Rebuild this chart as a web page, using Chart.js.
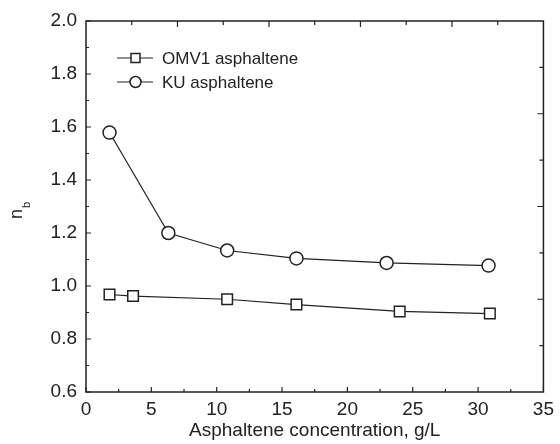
<!DOCTYPE html>
<html lang="en">
<head>
    <meta charset="UTF-8">
    <title>n_b vs asphaltene concentration</title>
    <script src="https://cdn.jsdelivr.net/npm/chart.js"></script>
    <style>
        * { margin: 0; padding: 0; box-sizing: border-box; }
        body { background: #ffffff; width: 560px; height: 444px; overflow: hidden; }
        .wrap { position: relative; width: 560px; height: 444px; }
    </style>
</head>
<body>
<div class="wrap">
    <canvas id="chart" width="560" height="444"></canvas>
</div>

<script>
    // data
    var omvConc = [1.8, 3.6, 10.8, 16.1, 24.0, 30.9];
    var omvNb   = [0.968, 0.962, 0.950, 0.930, 0.904, 0.896];
    var kuConc  = [1.8, 6.3, 10.8, 16.1, 23.0, 30.8];
    var kuNb    = [1.579, 1.200, 1.134, 1.104, 1.087, 1.077];

    var xTicks = [0, 5, 10, 15, 20, 25, 30, 35];
    var yTicks = [0.6, 0.8, 1.0, 1.2, 1.4, 1.6, 1.8, 2.0];

    var INK = '#222222';
    var FONT = 'Liberation Sans, Arial, sans-serif';

    function toPoints(xs, ys) {
        return xs.map(function (x, i) { return { x: x, y: ys[i] }; });
    }

    // frame with inward ticks (Origin style), top/right axes have their own spacing
    var framePlugin = {
        id: 'frame',
        afterDraw: function (chart) {
            var ctx = chart.ctx;
            var a = chart.chartArea;
            var xs = chart.scales.x, ys = chart.scales.y;
            ctx.save();
            ctx.strokeStyle = INK;
            ctx.lineWidth = 1.5;
            ctx.strokeRect(a.left, a.top, a.right - a.left, a.bottom - a.top);
            ctx.lineWidth = 1.2;
            ctx.beginPath();
            var v, p, len;
            // bottom: major 5, minor 2.5
            for (v = 0; v <= 35.001; v += 2.5) {
                p = xs.getPixelForValue(v);
                len = (Math.round(v / 2.5) % 2 === 0) ? 5 : 3;
                ctx.moveTo(p, a.bottom); ctx.lineTo(p, a.bottom - len);
            }
            // left: major 0.2, minor 0.1
            for (v = 0.6; v <= 2.0001; v += 0.1) {
                p = ys.getPixelForValue(v);
                len = (Math.round((v - 0.6) / 0.1) % 2 === 0) ? 5 : 3;
                ctx.moveTo(a.left, p); ctx.lineTo(a.left + len, p);
            }
            // top: major 7, minor 3.5
            for (v = 3.5; v < 35; v += 3.5) {
                p = xs.getPixelForValue(v);
                len = (Math.round(v / 3.5) % 2 === 0) ? 6 : 4;
                ctx.moveTo(p, a.top); ctx.lineTo(p, a.top + len);
            }
            // right: major 0.35, minor 0.175
            for (v = 0.775; v < 2.0; v += 0.175) {
                p = ys.getPixelForValue(v);
                len = (Math.round((v - 0.6) / 0.175) % 2 === 0) ? 6 : 4;
                ctx.moveTo(a.right, p); ctx.lineTo(a.right - len, p);
            }
            ctx.stroke();

            // y title: n with subscript b, rotated
            ctx.fillStyle = INK;
            ctx.translate(22, 219);
            ctx.rotate(-Math.PI / 2);
            ctx.textBaseline = 'alphabetic';
            ctx.textAlign = 'left';
            ctx.font = '18px ' + FONT;
            ctx.fillText('n', 0, 0);
            ctx.font = '11px ' + FONT;
            ctx.fillText('b', 11, 8);
            ctx.restore();
        }
    };

    // legend with line-marker-line samples
    var legendPlugin = {
        id: 'sampleLegend',
        afterDraw: function (chart) {
            var ctx = chart.ctx;
            var items = [
                { label: 'OMV1 asphaltene', style: 'rect', y: 58 },
                { label: 'KU asphaltene', style: 'circle', y: 82 }
            ];
            ctx.save();
            ctx.strokeStyle = INK;
            ctx.fillStyle = INK;
            ctx.lineWidth = 1.2;
            ctx.font = '17px ' + FONT;
            ctx.textBaseline = 'middle';
            items.forEach(function (it) {
                ctx.beginPath();
                ctx.moveTo(117, it.y); ctx.lineTo(153, it.y);
                ctx.stroke();
                ctx.fillStyle = '#ffffff';
                ctx.beginPath();
                if (it.style === 'rect') {
                    ctx.rect(131, it.y - 4.5, 9, 9);
                } else {
                    ctx.arc(135.5, it.y, 5.5, 0, Math.PI * 2);
                }
                ctx.fill();
                ctx.lineWidth = 1.5;
                ctx.stroke();
                ctx.lineWidth = 1.2;
                ctx.fillStyle = INK;
                ctx.fillText(it.label, 162, it.y + 1);
            });
            ctx.restore();
        }
    };

    var ctx = document.getElementById('chart').getContext('2d');
    var chart = new Chart(ctx, {
        type: 'scatter',
        data: {
            datasets: [{
                label: 'OMV1 asphaltene',
                data: toPoints(omvConc, omvNb),
                showLine: true,
                borderColor: INK,
                borderWidth: 1.2,
                pointStyle: 'rect',
                pointRadius: 7.5,
                pointBackgroundColor: '#ffffff',
                pointBorderColor: INK,
                pointBorderWidth: 1.5
            }, {
                label: 'KU asphaltene',
                data: toPoints(kuConc, kuNb),
                showLine: true,
                borderColor: INK,
                borderWidth: 1.2,
                pointStyle: 'circle',
                pointRadius: 6.5,
                pointBackgroundColor: '#ffffff',
                pointBorderColor: INK,
                pointBorderWidth: 1.5
            }]
        },
        options: {
            responsive: false,
            animation: false,
            layout: { padding: { top: 21, right: 12, left: 0, bottom: 0 } },
            plugins: {
                legend: { display: false },
                tooltip: { enabled: false }
            },
            scales: {
                x: {
                    type: 'linear',
                    min: 0,
                    max: 35,
                    afterBuildTicks: function (s) {
                        s.ticks = xTicks.map(function (v) { return { value: v }; });
                    },
                    afterFit: function (s) { s.height = 52; },
                    grid: { display: false, drawTicks: false },
                    border: { display: false },
                    ticks: {
                        color: INK,
                        padding: 6,
                        maxRotation: 0,
                        font: { family: FONT, size: 19 },
                        callback: function (v) { return String(v); }
                    },
                    title: {
                        display: true,
                        text: 'Asphaltene concentration, g/L',
                        color: INK,
                        font: { family: FONT, size: 19 },
                        padding: { top: 0, bottom: 2 }
                    }
                },
                y: {
                    type: 'linear',
                    min: 0.6,
                    max: 2.0,
                    afterBuildTicks: function (s) {
                        s.ticks = yTicks.map(function (v) { return { value: v }; });
                    },
                    afterFit: function (s) { s.width = 86; },
                    grid: { display: false, drawTicks: false },
                    border: { display: false },
                    ticks: {
                        color: INK,
                        padding: 9,
                        font: { family: FONT, size: 19 },
                        callback: function (v) { return Number(v).toFixed(1); }
                    }
                }
            }
        },
        plugins: [framePlugin, legendPlugin]
    });
</script>
</body>
</html>
